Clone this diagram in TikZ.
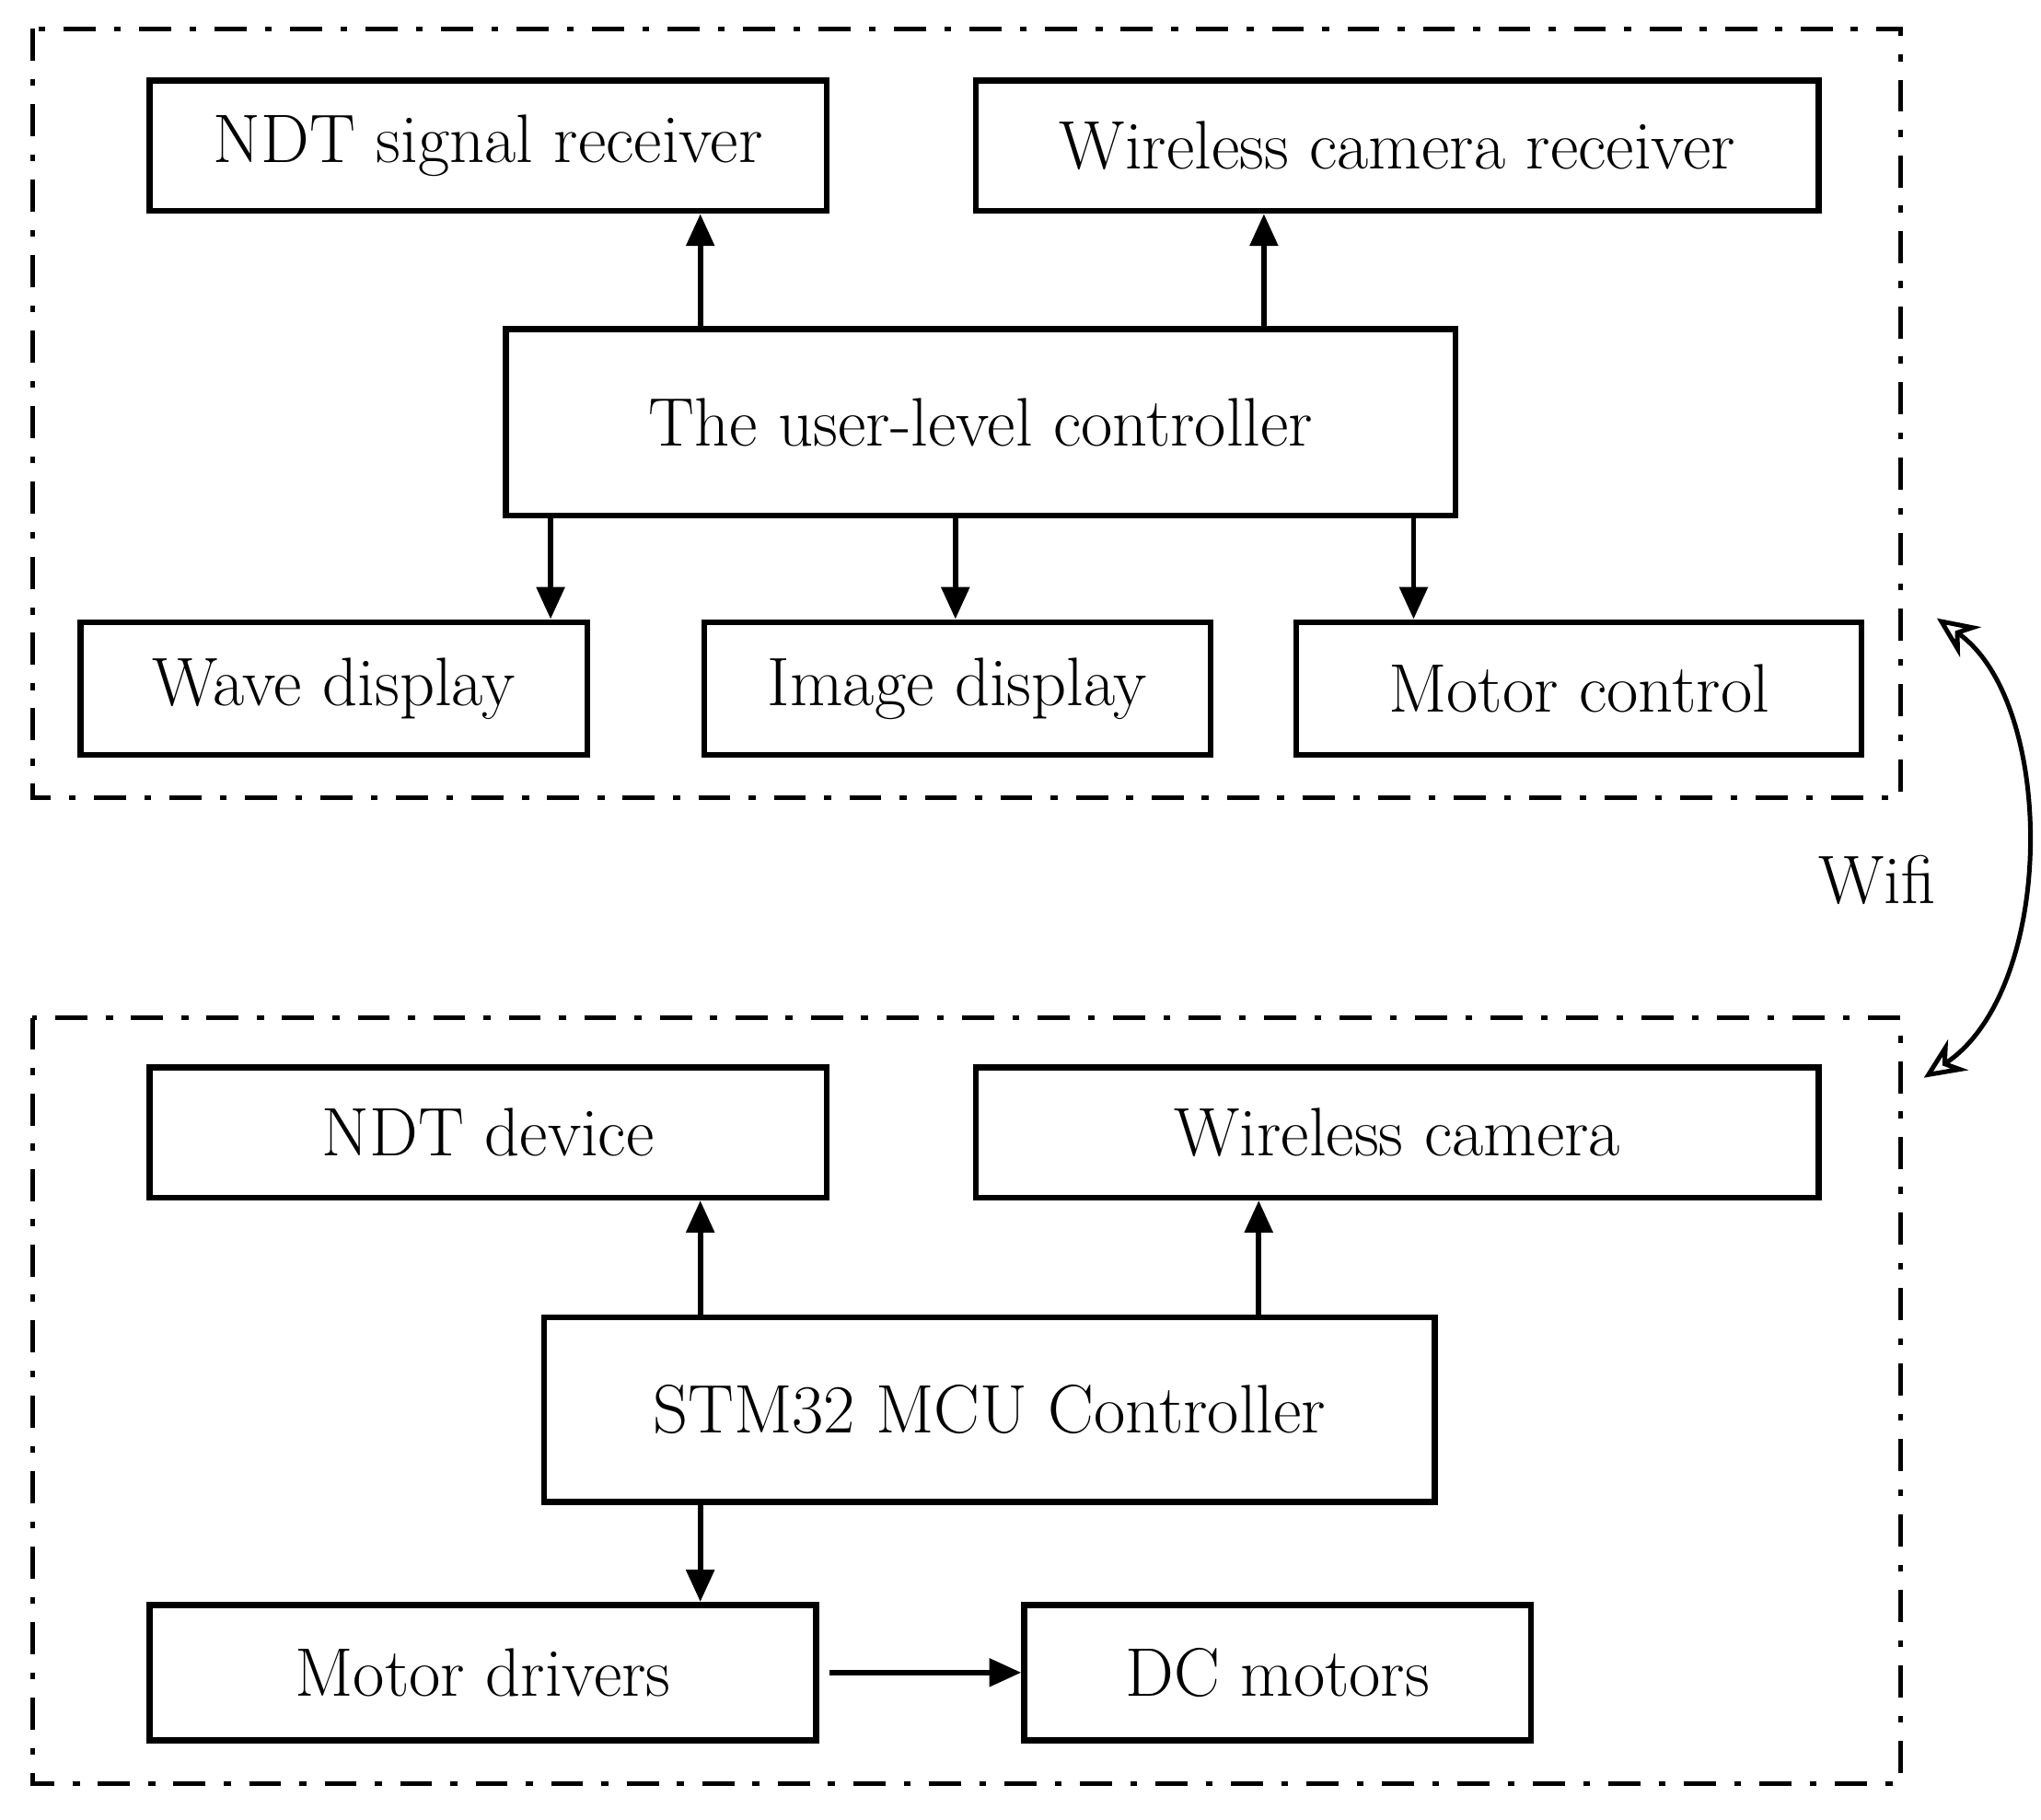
\documentclass[tikz,border=0pt]{standalone}
\usetikzlibrary{arrows.meta}
\begin{document}
\begin{tikzpicture}[x=0.01cm,y=-0.01cm,
  box/.style={draw,line width=1.3pt,inner sep=0pt,font=\fontsize{15}{17}\selectfont},
  arr/.style={line width=1.2pt,-{Triangle[length=7pt,width=6pt]}},
  grp/.style={line width=1pt,dash pattern=on 7pt off 4pt on 1.5pt off 4pt}]
\useasboundingbox (0,0) rectangle (1568,1398);
\draw[grp] (25,22) rectangle (1460,613);
\draw[grp] (25,782) rectangle (1460,1370);
\node[box,minimum width=5.2cm,minimum height=1cm] (ndtr) at (375,112) {NDT signal receiver};
\node[box,minimum width=6.47cm,minimum height=1cm] (wcr) at (1073.5,112) {Wireless camera receiver};
\node[box,minimum width=7.29cm,minimum height=1.43cm] (uc) at (753.5,324.5) {The user-level controller};
\node[box,minimum width=3.89cm,minimum height=1.02cm] (wave) at (256.5,529) {Wave display};
\node[box,minimum width=3.89cm,minimum height=1.02cm] (img) at (735.5,529) {Image display};
\node[box,minimum width=4.34cm,minimum height=1.02cm] (mc) at (1213,529) {Motor control};
\node[box,minimum width=5.2cm,minimum height=1cm] (ndtd) at (375,870) {NDT device};
\node[box,minimum width=6.47cm,minimum height=1cm] (wc) at (1073.5,870) {Wireless camera};
\node[box,minimum width=6.84cm,minimum height=1.42cm] (stm) at (760,1083) {STM32 MCU Controller};
\node[box,minimum width=5.12cm,minimum height=1.04cm] (md) at (371,1285) {Motor drivers};
\node[box,minimum width=3.89cm,minimum height=1.04cm] (dc) at (981.5,1285) {DC motors};
\draw[arr] (uc.north -| 538,0) -- (ndtr.south -| 538,0);
\draw[arr] (uc.north -| 971,0) -- (wcr.south -| 971,0);
\draw[arr] (uc.south -| 423,0) -- (wave.north -| 423,0);
\draw[arr] (uc.south -| 734,0) -- (img.north -| 734,0);
\draw[arr] (uc.south -| 1086,0) -- (mc.north -| 1086,0);
\draw[arr] (stm.north -| 538,0) -- (ndtd.south -| 538,0);
\draw[arr] (stm.north -| 967,0) -- (wc.south -| 967,0);
\draw[arr] (stm.south -| 538,0) -- (md.north -| 538,0);
\draw[arr] ([xshift=0.08cm]md.east) -- (dc.west);
\coordinate (w1) at (1488,475);
\coordinate (w2) at (1478,828);
\draw[line width=1pt,{Stealth[length=9pt,width=8pt,open]}-{Stealth[length=9pt,width=8pt,open]}] (w1) .. controls (1580,540) and (1580,760) .. (w2);
\node[font=\fontsize{15}{17}\selectfont] (wifi) at (1442,676) {Wifi};
\end{tikzpicture}
\end{document}
